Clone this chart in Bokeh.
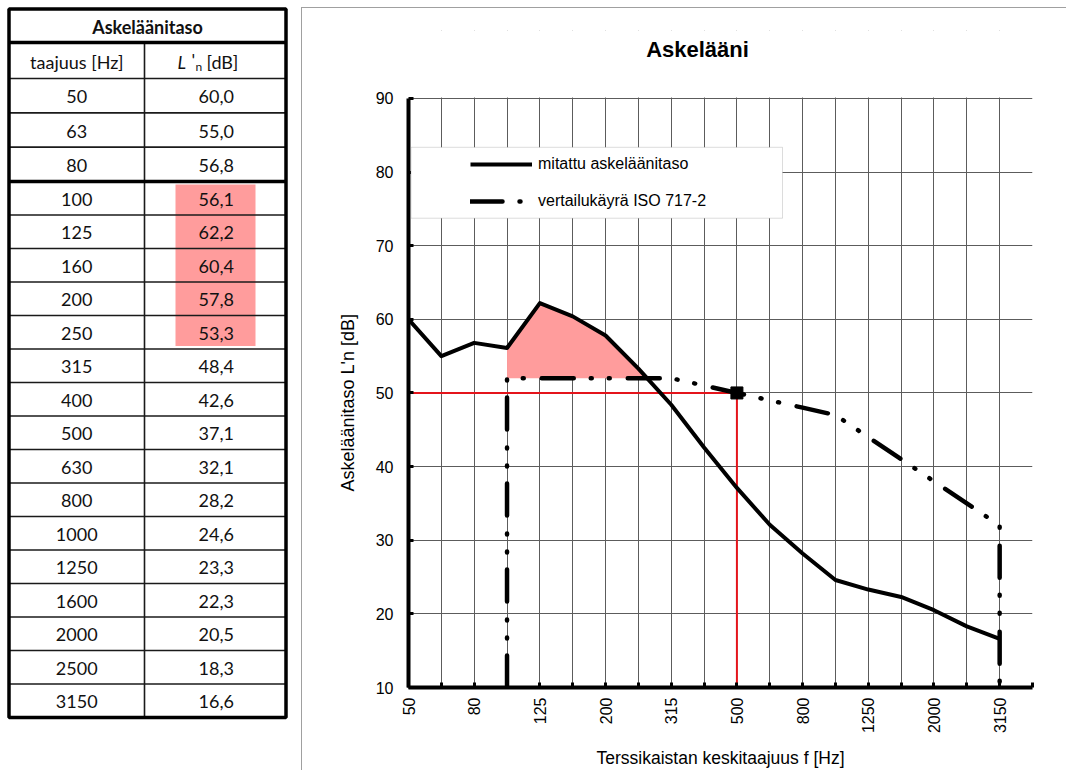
import numpy as np
from bokeh.plotting import figure
from bokeh.models import (Range1d, FixedTicker, Legend, LegendItem, BoxAnnotation, Title)
from bokeh.layouts import row
from bokeh.embed import file_html
from bokeh.resources import INLINE
from bokeh.core.properties import value

# ---------------- data ----------------
freq_labels = ["50", "63", "80", "100", "125", "160", "200", "250", "315", "400",
               "500", "630", "800", "1000", "1250", "1600", "2000", "2500", "3150"]
measured = [60.0, 55.0, 56.8, 56.1, 62.2, 60.4, 57.8, 53.3, 48.4, 42.6,
            37.1, 32.1, 28.2, 24.6, 23.3, 22.3, 20.5, 18.3, 16.6]
measured_txt = ["60,0", "55,0", "56,8", "56,1", "62,2", "60,4", "57,8", "53,3", "48,4", "42,6",
                "37,1", "32,1", "28,2", "24,6", "23,3", "22,3", "20,5", "18,3", "16,6"]
# ISO 717-2 reference curve 100..3150 Hz (value 60 dB at 500 Hz)
iso_ref_base = [62, 62, 62, 62, 62, 62, 61, 60, 59, 58, 57, 54, 51, 48, 45, 42]
iso_ref_at_500 = 60
rating = 50                      # L'n,w
highlight = ["100", "125", "160", "200", "250"]
y_min, y_max = 10, 90
y_ticks = [10, 20, 30, 40, 50, 60, 70, 80, 90]
chart_title = "Askelääni"

PAD = 7  # page offset

# ---------------- table ----------------
TW, TH = 294, 763
t = figure(width=TW + PAD, height=TH + PAD, x_range=Range1d(-PAD, TW),
           y_range=Range1d(TH, -PAD),
           output_backend="svg", toolbar_location=None, min_border=0,
           x_axis_location=None, y_axis_location=None)
t.frame_align = False
t.grid.visible = False
t.outline_line_color = None

tx0, tmid, tx1 = 1.5, 137.0, 278.5
row_h_top = [35 - 1.5, 36] + [103 / 3] * 3
row_h_rest = [33.5] * 16
edges = np.cumsum([1.5] + row_h_top + row_h_rest)

i100 = freq_labels.index("100")
hl_rows = [freq_labels.index(h) for h in highlight]
# pink highlight for the values used in evaluation
t.quad(left=[168], right=[248],
       top=[edges[2 + hl_rows[0]] + 3], bottom=[edges[3 + hl_rows[-1]] - 3],
       fill_color="#ff9c9c", line_color=None)

# thin row lines
thin_y = [edges[k] for k in range(2, len(edges) - 1) if k != 2 + i100]
t.segment(x0=[tx0] * len(thin_y), x1=[tx1] * len(thin_y), y0=thin_y, y1=thin_y,
          line_color="#1a1a1a", line_width=1.6)
# column divider
t.segment(x0=[tmid], x1=[tmid], y0=[edges[1]], y1=[edges[-1]],
          line_color="#1a1a1a", line_width=1.6)
# thick lines
thick_y = [edges[1], edges[2 + i100]]
t.segment(x0=[tx0] * 2, x1=[tx1] * 2, y0=thick_y, y1=thick_y,
          line_color="black", line_width=3.5)
t.quad(left=[tx0], right=[tx1], top=[edges[0]], bottom=[edges[-1]],
       fill_color=None, line_color="black", line_width=3.5)

c1, c2 = (tx0 + tmid) / 2, (tmid + tx1) / 2 + 1
tfont = value("Lato")
# title
t.text(x=[(tx0 + tx1) / 2], y=[(edges[0] + edges[1]) / 2 + 1], text=["Askeläänitaso"],
       text_align="center", text_baseline="middle", text_font=tfont,
       text_font_size="18px", text_font_style="bold", text_color="#111111")
# column headers
yh = (edges[1] + edges[2]) / 2 + 1
t.text(x=[c1], y=[yh], text=["taajuus [Hz]"], text_align="center",
       text_baseline="middle", text_font=tfont, text_font_size="18px", text_color="#111111")
t.text(x=[170], y=[yh], text=["L"], text_align="left", text_baseline="middle",
       text_font=tfont, text_font_size="18px", text_font_style="italic", text_color="#111111")
t.text(x=[184], y=[yh - 2], text=["'"], text_align="left", text_baseline="middle",
       text_font=tfont, text_font_size="18px", text_color="#111111")
t.text(x=[188], y=[yh + 5], text=["n"], text_align="left", text_baseline="middle",
       text_font=tfont, text_font_size="12px", text_color="#111111")
t.text(x=[199], y=[yh], text=["[dB]"], text_align="left", text_baseline="middle",
       text_font=tfont, text_font_size="18px", text_color="#111111")
# body
yc = [(edges[2 + k] + edges[3 + k]) / 2 + 1 for k in range(len(freq_labels))]
t.text(x=[c1] * len(freq_labels), y=yc, text=freq_labels, text_align="center",
       text_baseline="middle", text_font=tfont, text_font_size="18px", text_color="#111111")
t.text(x=[c2] * len(freq_labels), y=yc, text=measured_txt, text_align="center",
       text_baseline="middle", text_font=tfont, text_font_size="18px", text_color="#111111")

# ---------------- chart ----------------
n = len(freq_labels)
xi = list(range(n))
ref = [b + (rating - iso_ref_at_500) for b in iso_ref_base]
ref_x = list(range(i100, n))
i500 = freq_labels.index("500")

FIG_H = 763
TOP_BORDER = 22          # frame extends above the 90 dB line to host the title
BOTTOM_BORDER = 83
PLOT_H = 590             # height of the 10..90 dB area
dy = PLOT_H / (y_max - y_min)
frame_h = FIG_H - TOP_BORDER - BOTTOM_BORDER
y_top = y_min + frame_h / dy
dx = 624 / n

p = figure(width=765, height=FIG_H, x_range=Range1d(0, n), y_range=Range1d(y_min, y_top),
           output_backend="svg", toolbar_location=None,
           min_border_left=106, min_border_right=35, min_border_top=TOP_BORDER,
           min_border_bottom=BOTTOM_BORDER)
p.frame_align = False
p.outline_line_color = None
p.background_fill_color = "white"
p.border_fill_color = "white"
p.styles = {"border-left": "1px solid #a0a0a0", "border-top": "1px solid #a0a0a0",
            "margin-top": "%dpx" % PAD}

p.xgrid.ticker = FixedTicker(ticks=list(range(n + 1)))
p.ygrid.ticker = FixedTicker(ticks=y_ticks)
p.grid.grid_line_color = "#5c5c5c"
p.grid.grid_line_width = 1
p.grid.grid_line_alpha = 1

p.xaxis.ticker = FixedTicker(ticks=list(range(n + 1)))
p.xaxis.major_label_overrides = {i: (freq_labels[i] if (i < n and i % 2 == 0) else "")
                                 for i in range(n + 1)}
p.xaxis.major_label_orientation = np.pi / 2
p.xaxis.major_label_standoff = 10
p.yaxis.ticker = FixedTicker(ticks=y_ticks)
p.yaxis.bounds = (y_min, y_max)
p.yaxis.major_label_standoff = 15
for ax in (p.xaxis[0], p.yaxis[0]):
    ax.axis_line_width = 4
    ax.axis_line_color = "black"
    ax.major_tick_in = 5
    ax.major_tick_out = 0
    ax.major_tick_line_width = 3
    ax.major_tick_line_color = "black"
    ax.minor_tick_line_color = None
    ax.major_label_text_font = "Liberation Sans"
    ax.major_label_text_font_size = "16px"
    ax.major_label_text_color = "black"
    ax.axis_label_text_font = "Liberation Sans"
    ax.axis_label_text_font_style = "normal"
    ax.axis_label_text_color = "black"
p.xaxis.axis_label = "Terssikaistan keskitaajuus f [Hz]"
p.xaxis.axis_label_text_font_size = "17.5px"
p.xaxis.axis_label_standoff = 12

# y axis title, centred on the 10..90 dB part of the frame
p.add_layout(Title(text="Askeläänitaso L'n [dB]", align="left", offset=196, standoff=30,
                   text_font="Liberation Sans", text_font_size="18px",
                   text_font_style="normal", text_color="black"), "left")

# white band above the 90 dB line (hides the grid there) and the title
p.quad(left=[0], right=[n], bottom=[y_max + 1 / dy], top=[y_top],
       fill_color="white", line_color=None)
p.text(x=[289 / dx], y=[y_max + 49 / dy], text=[chart_title], text_align="center",
       text_baseline="middle", text_font=value("Liberation Sans"), text_font_size="22px",
       text_font_style="bold", text_color="black")

# red fill where measured exceeds the reference curve
poly_x, poly_top = [], []
cross = None
for k in range(len(ref)):
    i = i100 + k
    d = measured[i] - ref[k]
    if d > 0:
        poly_x.append(i)
        poly_top.append(measured[i])
        if k + 1 < len(ref):
            d1 = measured[i + 1] - ref[k + 1]
            if d1 <= 0:
                f = d / (d - d1)
                cross = (i + f, measured[i] + f * (measured[i + 1] - measured[i]))
                break
px = poly_x + [cross[0]] + poly_x[::-1]
py = poly_top + [cross[1]] + [ref[x - i100] for x in poly_x[::-1]]
p.patch(px, py, fill_color="#ff9c9c", line_color=None)

# evaluation lines
p.line([0, i500], [rating, rating], line_color="#e4141b", line_width=2)
p.line([i500, i500], [rating, y_min], line_color="#e4141b", line_width=2)

r_meas = p.line(xi, measured, line_color="black", line_width=4, line_join="round")
r_ref = p.line([i100] + ref_x + [n - 1], [y_min] + ref + [y_min], line_color="black",
               line_width=4.5, line_dash="32 17 1 17 1 18", line_cap="round",
               line_join="round")
p.scatter([i500], [rating], marker="square", size=12, color="black")

# legend
p.add_layout(BoxAnnotation(left=2.5 / dx, right=374 / dx, top=y_max - 49 / dy,
                           bottom=y_max - 120 / dy, fill_color="white", fill_alpha=1,
                           line_color="#8a8a8a", line_width=1))
legend = Legend(items=[LegendItem(label="mitattu askeläänitaso", renderers=[r_meas]),
                       LegendItem(label="vertailukäyrä ISO 717-2", renderers=[r_ref])],
                location=(57, 471), glyph_width=62, glyph_height=20, label_height=20,
                spacing=17, padding=5, label_standoff=6,
                label_text_font="Liberation Sans", label_text_font_size="16px",
                label_text_color="black",
                background_fill_alpha=0, border_line_alpha=0)
p.add_layout(legend)

layout = row(t, p, spacing=0)
open("out.html", "w").write(file_html(layout, INLINE))
